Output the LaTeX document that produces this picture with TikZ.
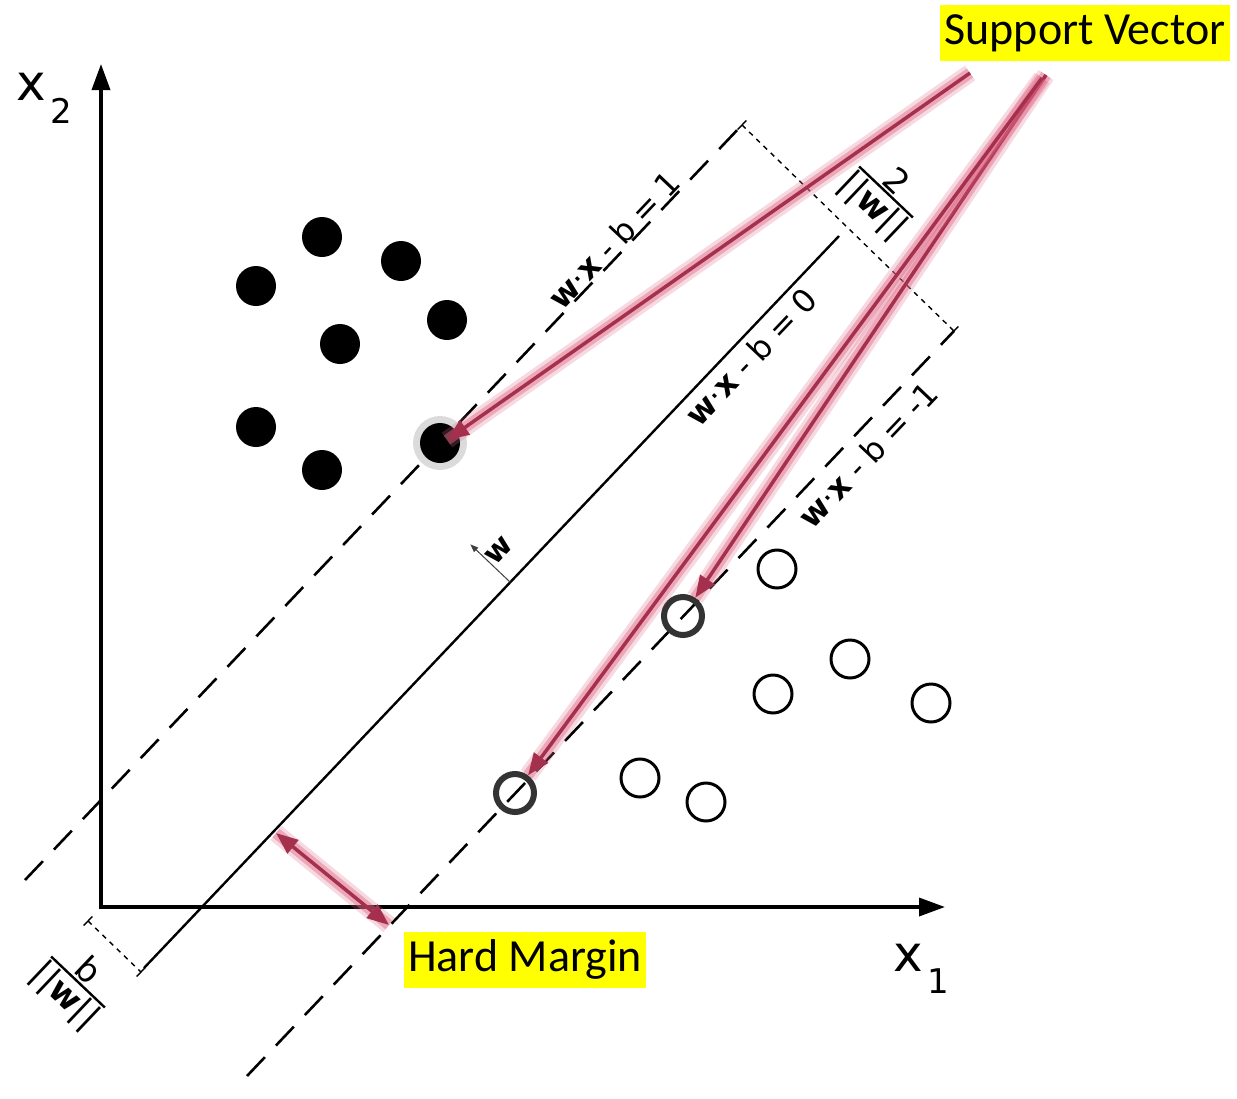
\documentclass[tikz,border=0pt]{standalone}
\usepackage{fontspec}
\setmainfont{DejaVu Sans}
\newfontfamily\calib{Carlito}
\usetikzlibrary{arrows.meta,calc}
\definecolor{svred}{RGB}{165,48,78}
\definecolor{glowpink}{RGB}{222,105,135}
\definecolor{hl}{RGB}{255,255,0}
\newcommand{\hs}{\hspace{0.28em}}
\begin{document}
\begin{tikzpicture}[x=1pt,y=-1pt,
  axis/.style={line width=3.5pt,-{Triangle[length=26pt,width=18pt]}},
  margin/.style={line width=2.6pt, dash pattern=on 26pt off 16pt},
  hyper/.style={line width=2.4pt},
  dim/.style={line width=1.4pt, dash pattern=on 5pt off 5pt},
  tickmark/.style={line width=1.4pt},
  posdot/.style={circle, fill=black, minimum size=40pt, inner sep=0pt},
  halo/.style={circle, fill=black!14, minimum size=54pt, inner sep=0pt},
  negdot/.style={circle, draw=black, line width=3pt, minimum size=38pt, inner sep=0pt},
  negsv/.style={circle, draw=black!80, line width=6pt, minimum size=38pt, inner sep=0pt},
  lbl/.style={font=\fontsize{32}{34}\selectfont, rotate=46.5, inner sep=0pt},
  frtxt/.style={transform shape, font=\fontsize{34}{36}\selectfont},
  glow/.style={preaction={draw=glowpink, line width=18pt, opacity=0.25, -},
               preaction={draw=glowpink, line width=11pt, opacity=0.45, -}},
  redarrow/.style={glow, draw=svred, line width=3.5pt, -{Triangle[length=22pt,width=17pt]}},
  hlbox/.style={fill=hl, font=\calib\fontsize{46}{50}\selectfont, inner xsep=4pt,
                text height=32pt, text depth=10pt, inner ysep=7pt},
  frbar/.style={line width=2.4pt}
]
\useasboundingbox (0,0) rectangle (1237,1098);

% axes
\coordinate (O) at (101,907);
\coordinate (Ytip) at (101,64);
\coordinate (Xtip) at (945,907);
\draw[axis] (101,909) -- (Ytip);
\draw[axis] (99,907) -- (Xtip);
\node[font=\fontsize{50}{50}\selectfont, inner sep=0pt] (x2l) at (31,87) {x};
\node[font=\fontsize{34}{34}\selectfont, inner sep=0pt] (x2s) at (61,111) {2};
\node[font=\fontsize{50}{50}\selectfont, inner sep=0pt] (x1l) at (908,958) {x};
\node[font=\fontsize{34}{34}\selectfont, inner sep=0pt] (x1s) at (938,981) {1};

% hyperplanes
\coordinate (U1) at (25,880);  \coordinate (U2) at (742,125);
\coordinate (S1) at (144,968); \coordinate (S2) at (839,236);
\coordinate (L1) at (247,1076); \coordinate (L2) at (954,331);
\draw[margin] (U1) -- (U2);
\draw[hyper] (S1) -- (S2);
\draw[margin] (L1) -- (L2);

% dimension 2/||w||
\draw[dim] (U2) -- (L2);
\draw[tickmark] ($(U2)+(-4.3,4.5)$) -- ($(U2)+(4.3,-4.5)$);
\draw[tickmark] ($(L2)+(-4.3,4.5)$) -- ($(L2)+(4.3,-4.5)$);
\begin{scope}[shift={(886,192)}, rotate=-43.5]
  \draw[frbar] (-37,0) -- (37,0);
  \node[frtxt, anchor=south, inner sep=3pt] (twoN) at (0,0) {2};
  \node[frtxt, anchor=north, inner sep=3pt] (twoD) at (0,0) {|\kern1pt|\textbf{w}|\kern1pt|};
\end{scope}

% dimension b/||w||
\coordinate (B1) at (88,921); \coordinate (B2) at (141,972);
\draw[dim] (B1) -- (B2);
\draw[tickmark] ($(B1)+(-4.3,4.5)$) -- ($(B1)+(4.3,-4.5)$);
\draw[tickmark] ($(B2)+(-4.3,4.5)$) -- ($(B2)+(4.3,-4.5)$);
\begin{scope}[shift={(78,982)}, rotate=-43.5]
  \draw[frbar] (-37,0) -- (37,0);
  \node[frtxt, anchor=south, inner sep=3pt] (bN) at (0,0) {b};
  \node[frtxt, anchor=north, inner sep=3pt] (bD) at (0,0) {|\kern1pt|\textbf{w}|\kern1pt|};
\end{scope}

% hyperplane labels
\node[lbl] (lup) at (614,240) {\textbf{w}·\textbf{x}\hs-\hs b\hs=\hs 1};
\node[lbl] (lmid) at (751,357) {\textbf{w}·\textbf{x}\hs-\hs b\hs=\hs 0};
\node[lbl] (llow) at (868,455) {\textbf{w}·\textbf{x}\hs-\hs b\hs=\hs -1};

% normal vector w
\coordinate (wb) at ($(S1)!0.527!(S2)$);
\coordinate (wt) at ($(wb)!55pt!90:(S2)$);
\draw[line width=1pt, black!75, -{Triangle[length=8pt,width=6pt]}] (wb) -- (wt);
\node[font=\fontsize{30}{32}\selectfont\bfseries, rotate=46.5, inner sep=0pt] (wl) at (499,551) {w};

% positive points
\node[posdot] (p1) at (322,237) {};
\node[posdot] (p2) at (401,261) {};
\node[posdot] (p3) at (256,286) {};
\node[posdot] (p4) at (447,320) {};
\node[posdot] (p5) at (340,344) {};
\node[posdot] (p6) at (256,427) {};
\node[posdot] (p7) at (322,470) {};
\node[halo] (sv1h) at (440,443) {};
\node[posdot] (sv1) at (440,443) {};

% negative points
\node[negdot] (n1) at (777,569) {};
\node[negdot] (n2) at (850,659) {};
\node[negdot] (n3) at (773,694) {};
\node[negdot] (n4) at (931,703) {};
\node[negdot] (n5) at (640,778) {};
\node[negdot] (n6) at (706,802) {};
\node[negsv] (sv2) at (683,616) {};
\node[negsv] (sv3) at (515,793) {};

% labels with highlight
\node[hlbox] (svlabel) at (1085,33) {Support Vector};
\node[hlbox] (hmlabel) at (525,960) {Hard Margin};

% red arrows
\coordinate (a1s) at (970,73);
\coordinate (a2s) at (1046,75);
\coordinate (a3s) at (1042,78);
\coordinate (t1) at (447,440);
\draw[redarrow] (a1s) -- (t1);
\draw[redarrow] (a2s) -- (sv2);
\draw[redarrow] (a3s) -- (sv3);
\coordinate (hm1) at (276,833);
\coordinate (hm2) at (389,925);
\draw[redarrow, {Triangle[length=22pt,width=17pt]}-{Triangle[length=22pt,width=17pt]}] (hm1) -- (hm2);
\end{tikzpicture}
\end{document}
